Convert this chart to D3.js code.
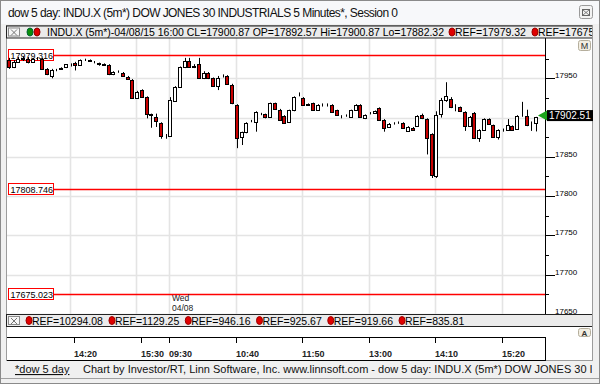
<!DOCTYPE html>
<html><head><meta charset="utf-8">
<script src="https://cdn.jsdelivr.net/npm/d3@7"></script>
<style>body{margin:0;background:#f0f0f0}svg{display:block;font-family:"Liberation Sans",Arial,sans-serif}</style>
</head><body><svg id="c" width="600" height="384"></svg>
<script>
// ---------- DATA ----------
const sessions = [
  {date:"04/07", start:"13:10", end:"15:55"},
  {date:"04/08", start:"09:30", end:"15:55"}
];
const opens = [17973,17964,17971,17976,17975,17971,17975,17975,17962,17953,17961,17962,17964,17967,17970,17967,17973,17973,17971,17969,17968,17967,17955,17958,17957,17952,17948,17925,17935,17926,17904,17901,17893,17877,
 17877,17921,17939,17964,17972,17965,17968,17951,17957,17950,17940,17953,17953,17942,17916,17875,17881,17895,17894,17905,17904,17901,17918,17910,17902,17894,17909,17928,17925,17917,17918,17910,17916,17916,17916,17909,17902,17903,17901,17910,17916,17899,17905,17906,17912,17897,17888,17893,17894,17893,17883,17887,17889,17903,17898,17879,17826,17905,17922,17924,17913,17913,17907,17889,17906,17874,17884,17898,17890,17875,17884,17884,17889,17886,17902,17902,17893,17892.57];
const highs = [17976,17973,17977,17978,17977,17976,17977,17976,17963,17962,17962,17964,17968,17969,17971,17974,17975,17974,17972,17970,17969,17968,17959,17960,17958,17953,17949,17934,17936,17927,17905,17905,17894,17879,
 17926,17940,17965,17976,17976,17968,17976,17959,17958,17951,17953,17955,17954,17943,17917,17882,17894,17897,17908,17906,17905,17919,17919,17911,17903,17910,17927,17932,17926,17918,17919,17917,17918,17918,17917,17910,17903,17904,17910,17917,17917,17904,17907,17909,17913,17898,17893,17894,17895,17894,17889,17888,17903,17905,17899,17880,17908,17925,17945,17926,17917,17914,17908,17902,17907,17885,17899,17899,17891,17885,17886,17898,17890,17903,17920,17910,17895,17900.87];
const lows = [17962,17963,17970,17972,17969,17970,17973,17961,17954,17950,17959,17961,17963,17965,17960,17966,17972,17971,17969,17966,17966,17954,17954,17957,17952,17948,17924,17924,17925,17899,17887,17888,17873,17873,
 17876,17920,17938,17963,17964,17963,17950,17949,17949,17939,17935,17951,17942,17917,17861,17865,17880,17894,17882,17903,17899,17900,17910,17896,17892,17893,17908,17927,17915,17915,17909,17909,17914,17914,17906,17902,17899,17901,17900,17909,17900,17898,17904,17905,17896,17882,17887,17891,17892,17886,17882,17883,17888,17898,17853,17823,17823,17900,17920,17912,17908,17907,17883,17888,17873,17869,17883,17891,17874,17872,17882,17883,17883,17885,17901,17889,17883,17882.32];
const closes = [17964,17971,17975,17974,17971,17975,17975,17962,17955,17961,17961,17963,17968,17967,17967,17973,17973,17972,17971,17968,17967,17955,17958,17958,17953,17949,17925,17932,17926,17905,17903,17896,17877,17876,
 17922,17939,17964,17972,17965,17966,17951,17957,17950,17940,17951,17953,17943,17918,17874,17881,17893,17895,17907,17904,17901,17918,17911,17897,17893,17909,17926,17928,17916,17916,17910,17916,17916,17916,17907,17903,17902,17903,17909,17916,17901,17903,17905,17908,17897,17887,17892,17893,17894,17887,17888,17884,17902,17899,17874,17827,17903,17922,17927,17913,17913,17908,17889,17901,17874,17884,17898,17892,17875,17884,17884,17890,17884,17902,17902,17890,17893,17900.87];
const tickTimes = ["04/07 14:20","04/07 15:30","04/08 09:30","04/08 10:40","04/08 11:50","04/08 13:00","04/08 14:10","04/08 15:20"];
const gridTimes = ["04/07 14:15","04/07 15:25","04/08 09:30","04/08 10:40","04/08 11:50","04/08 13:00","04/08 14:10","04/08 15:20"];
const priceMajorTicks = [17650,17700,17750,17800,17850,17900,17950];
const priceMinorTicks = [17675,17725,17775,17825,17875,17925,17975];
const refLevels = [17979.316, 17808.746, 17675.023];
const topRefs = ["REF=17979.32","REF=17675.02"];
const bottomRefs = ["REF=10294.08","REF=1129.25","REF=946.16","REF=925.67","REF=919.66","REF=835.81"];
const lastPrice = 17902.51;
const titleText = "dow 5 day: INDU.X (5m*) DOW JONES 30 INDUSTRIALS 5 Minutes*, Session 0";
const legendText = "INDU.X (5m*)-04/08/15 16:00 CL=17900.87 OP=17892.57 Hi=17900.87 Lo=17882.32";
const footerLink = "*dow 5 day";
const footerText = "Chart by Investor/RT, Linn Software, Inc. www.linnsoft.com - dow 5 day: INDU.X (5m*) DOW JONES 30 INDUSTRIALS 5 Minutes*, Session 0";

// ---------- BUILD ----------
const toMin = s => { const [h,m]=s.split(":").map(Number); return h*60+m; };
const pad = n => String(n).padStart(2,"0");
const barTimes = [];
sessions.forEach(s => { for(let m=toMin(s.start); m<=toMin(s.end); m+=5) barTimes.push(s.date+" "+pad(Math.floor(m/60))+":"+pad(m%60)); });
const bars = barTimes.map((t,i)=>({i,t,o:opens[i],h:highs[i],l:lows[i],c:closes[i]}));
const idx = t => barTimes.indexOf(t);

const svg = d3.select("#c");
const P = {l:7, r:545, t:38, b:314, rr:592};
const x = d3.scaleLinear().domain([0, barTimes.length-1]).range([8.8, 536]);
const y = d3.scaleLinear().domain([17650, 17950]).range([313.8, 78.3]);

const defs = svg.append("defs");
defs.append("clipPath").attr("id","plotClip").append("rect").attr("x",P.l).attr("y",P.t).attr("width",P.r-P.l).attr("height",P.b-P.t);
defs.append("clipPath").attr("id","wideClip").append("rect").attr("x",0).attr("y",0).attr("width",P.rr).attr("height",384);

// window
svg.append("rect").attr("width",600).attr("height",384).attr("fill","#f0f0f0");
svg.append("rect").attr("width",600).attr("height",24).attr("fill","#f7f8fa");
svg.append("rect").attr("x",0.5).attr("y",0.5).attr("width",599).attr("height",383).attr("fill","none").attr("stroke","#8a8a8a");
svg.append("text").attr("x",8).attr("y",16.5).attr("font-size",12).attr("fill","#111")
  .attr("textLength",390).text(titleText);
// close button
const cb = svg.append("g");
cb.append("rect").attr("x",579.5).attr("y",5.5).attr("width",13).attr("height",13).attr("rx",2).attr("fill","#f3f3f3").attr("stroke","#9a9a9a");
cb.append("rect").attr("x",582.5).attr("y",9.5).attr("width",7).attr("height",6).attr("fill","none").attr("stroke","#666");
cb.append("path").attr("d","M583,10 L589,15 M589,10 L583,15").attr("stroke","#666").attr("stroke-width",0.8);

// chart control background
svg.append("rect").attr("x",6).attr("y",25).attr("width",P.rr-6).attr("height",336).attr("fill","#fff");
svg.append("rect").attr("x",6.5).attr("y",25.5).attr("width",P.rr-6).attr("height",335).attr("fill","none").attr("stroke","#9c9c9c");

// gridlines
const grid = svg.append("g").attr("clip-path","url(#plotClip)");
grid.selectAll("line.v").data(gridTimes).join("line")
  .attr("x1",d=>Math.round(x(idx(d)))-0.5).attr("x2",d=>Math.round(x(idx(d)))-0.5)
  .attr("y1",P.t).attr("y2",P.b).attr("stroke","#e4e4e4").attr("stroke-width",1.6);
grid.selectAll("line.h").data(priceMajorTicks).join("line")
  .attr("x1",P.l).attr("x2",P.r).attr("y1",d=>Math.round(y(d))+0.5).attr("y2",d=>Math.round(y(d))+0.5)
  .attr("stroke","#e4e4e4").attr("stroke-width",1.6);

// reference lines
const refG = svg.append("g");
refG.selectAll("line").data(refLevels).join("line")
  .attr("x1",P.l+1).attr("x2",P.r).attr("y1",d=>Math.round(y(d))+0.5).attr("y2",d=>Math.round(y(d))+0.5)
  .attr("stroke","#ff0000").attr("stroke-width",1.3);

// candles
const cg = svg.append("g").attr("clip-path","url(#plotClip)");
cg.selectAll("line.w").data(bars).join("line")
  .attr("x1",d=>Math.round(x(d.i))+0.5).attr("x2",d=>Math.round(x(d.i))+0.5)
  .attr("y1",d=>y(d.h)).attr("y2",d=>y(d.l)).attr("stroke","#000").attr("stroke-width",1);
cg.selectAll("rect.b").data(bars).join("rect")
  .attr("x",d=>Math.round(x(d.i))-1.5).attr("width",3)
  .attr("y",d=>Math.round(y(Math.max(d.o,d.c)))+0.5)
  .attr("height",d=>Math.max(0,Math.round(y(Math.min(d.o,d.c)))-Math.round(y(Math.max(d.o,d.c)))))
  .attr("fill",d=>d.c<d.o?"#c80000":"#fff").attr("stroke","#000").attr("stroke-width",1);

// reference labels
const rl = refG.selectAll("g.lab").data(refLevels).join("g").attr("transform",d=>`translate(8,${Math.round(y(d))})`);
rl.append("rect").attr("x",0.5).attr("y",-5.5).attr("width",45).attr("height",11).attr("fill","#fff").attr("stroke","#ff0000");
rl.append("text").attr("x",2.5).attr("y",3.8).attr("font-size",9).attr("fill","#000").text(d=>d3.format(".3f")(d));

// right axis
svg.append("line").attr("x1",P.r+0.5).attr("x2",P.r+0.5).attr("y1",P.t).attr("y2",P.b).attr("stroke","#000");
const ax = svg.append("g");
ax.selectAll("line.mj").data(priceMajorTicks).join("line")
  .attr("x1",P.r).attr("x2",P.r+10).attr("y1",d=>Math.round(y(d))+0.5).attr("y2",d=>Math.round(y(d))+0.5).attr("stroke","#000");
ax.selectAll("line.mn").data(priceMinorTicks).join("line")
  .attr("x1",P.r).attr("x2",P.r+4).attr("y1",d=>Math.round(y(d))+0.5).attr("y2",d=>Math.round(y(d))+0.5).attr("stroke","#000");
// labels hidden by the price marker are skipped (the marker covers them in the original)
ax.selectAll("text").data(priceMajorTicks.filter(d=>Math.abs(y(d)-y(lastPrice))>8)).join("text")
  .attr("x",P.r+10).attr("y",d=>Math.round(y(d))-0.5).attr("font-size",8).attr("fill","#000").text(d=>d);

// price marker
const pm = svg.append("g").attr("transform",`translate(0,${y(lastPrice)})`);
pm.append("path").attr("d",`M${P.r-7},0 L${P.r+2},-5 L${P.r+2},5 Z`).attr("fill","#1aa31a");
pm.append("rect").attr("x",P.r+2).attr("y",-5.5).attr("width",46).attr("height",11).attr("fill","#000");
pm.append("text").attr("x",P.r+4).attr("y",3.8).attr("font-size",10).attr("fill","#fff").text(d3.format(".2f")(lastPrice));

// M button
svg.append("rect").attr("x",578.5).attr("y",40.5).attr("width",12).attr("height",10).attr("rx",2).attr("fill","#f2eee2").attr("stroke","#b5ae9c");
svg.append("text").attr("x",584.5).attr("y",49).attr("text-anchor","middle").attr("font-size",9).attr("fill","#333").text("M");

// day labels
const d2 = idx("04/08 09:30");
svg.append("text").attr("x",Math.round(x(d2))+2).attr("y",301).attr("font-size",8.5).attr("fill","#222").text("Wed");
svg.append("text").attr("x",Math.round(x(d2))+2).attr("y",311).attr("font-size",8.5).attr("fill","#222").text("04/08");

// legend bar helper
function legendBar(y0, items, mainText, mainLen) {
  const g = svg.append("g").attr("clip-path","url(#wideClip)");
  g.append("rect").attr("x",6.5).attr("y",y0+0.5).attr("width",P.rr-6).attr("height",12).attr("fill","#ebebeb").attr("stroke","#222");
  g.append("rect").attr("x",8.5).attr("y",y0+2.5).attr("width",11).attr("height",8).attr("fill","#f6f6f6").attr("stroke","#8a8a8a");
  g.append("path").attr("d",`M11,${y0+4} L17,${y0+10} M17,${y0+4} L11,${y0+10}`).attr("stroke","#555").attr("stroke-width",0.8);
  let cx = 26;
  if (mainText) {
    g.append("ellipse").attr("cx",30).attr("cy",y0+6.5).attr("rx",3).attr("ry",4).attr("fill","#0a8f0a").attr("stroke","#063");
    g.append("ellipse").attr("cx",37).attr("cy",y0+6.5).attr("rx",3).attr("ry",4).attr("fill","#e00000").attr("stroke","#800");
    g.append("text").attr("x",47).attr("y",y0+10.5).attr("font-size",10.5).attr("fill","#000").attr("textLength",mainLen).text(mainText);
    cx = 47 + mainLen + 5;
  }
  items.forEach(s => {
    g.append("ellipse").attr("cx",cx+3).attr("cy",y0+6.5).attr("rx",3).attr("ry",4).attr("fill","#e00000").attr("stroke","#900");
    const t = g.append("text").attr("x",cx+6).attr("y",y0+10.5).attr("font-size",10.5).attr("fill","#000").text(s);
    cx += 6 + t.node().getComputedTextLength() + 6;
  });
}
legendBar(25.5, topRefs, legendText, 397);
legendBar(314, bottomRefs, null, 0);

// A button
svg.append("rect").attr("x",578.5).attr("y",328.5).attr("width",12).attr("height",8).attr("rx",2).attr("fill","#f2eee2").attr("stroke","#b5ae9c");
svg.append("text").attr("x",584.5).attr("y",335.5).attr("text-anchor","middle").attr("font-size",8).attr("font-weight","bold").attr("fill","#333").text("A");

// x axis panel
const xa = svg.append("g");
xa.append("line").attr("x1",P.l).attr("x2",P.r+1).attr("y1",337.5).attr("y2",337.5).attr("stroke","#000");
xa.append("line").attr("x1",P.l).attr("x2",P.r+1).attr("y1",360.5).attr("y2",360.5).attr("stroke","#000");
xa.append("line").attr("x1",P.r+0.5).attr("x2",P.r+0.5).attr("y1",337).attr("y2",361).attr("stroke","#000");
xa.selectAll("line.t").data(tickTimes).join("line")
  .attr("x1",d=>Math.round(x(idx(d)))-0.5).attr("x2",d=>Math.round(x(idx(d)))-0.5)
  .attr("y1",337).attr("y2",343).attr("stroke","#000");
xa.selectAll("text").data(tickTimes).join("text")
  .attr("x",d=>Math.round(x(idx(d)))-1).attr("y",357).attr("font-size",9).attr("font-weight","bold").attr("fill","#222")
  .text(d=>d.slice(6));

// footer
svg.append("rect").attr("x",1).attr("y",362).attr("width",598).attr("height",16).attr("fill","#f0f0f0");
svg.append("text").attr("x",15).attr("y",373).attr("font-size",11).attr("fill","#111").attr("text-decoration","underline").text(footerLink);
svg.append("text").attr("x",83).attr("y",373).attr("font-size",11).attr("fill","#111").attr("clip-path","url(#wideClip)").text(footerText);
svg.append("line").attr("x1",1).attr("x2",599).attr("y1",378.5).attr("y2",378.5).attr("stroke","#a0a0a0");
</script></body></html>
